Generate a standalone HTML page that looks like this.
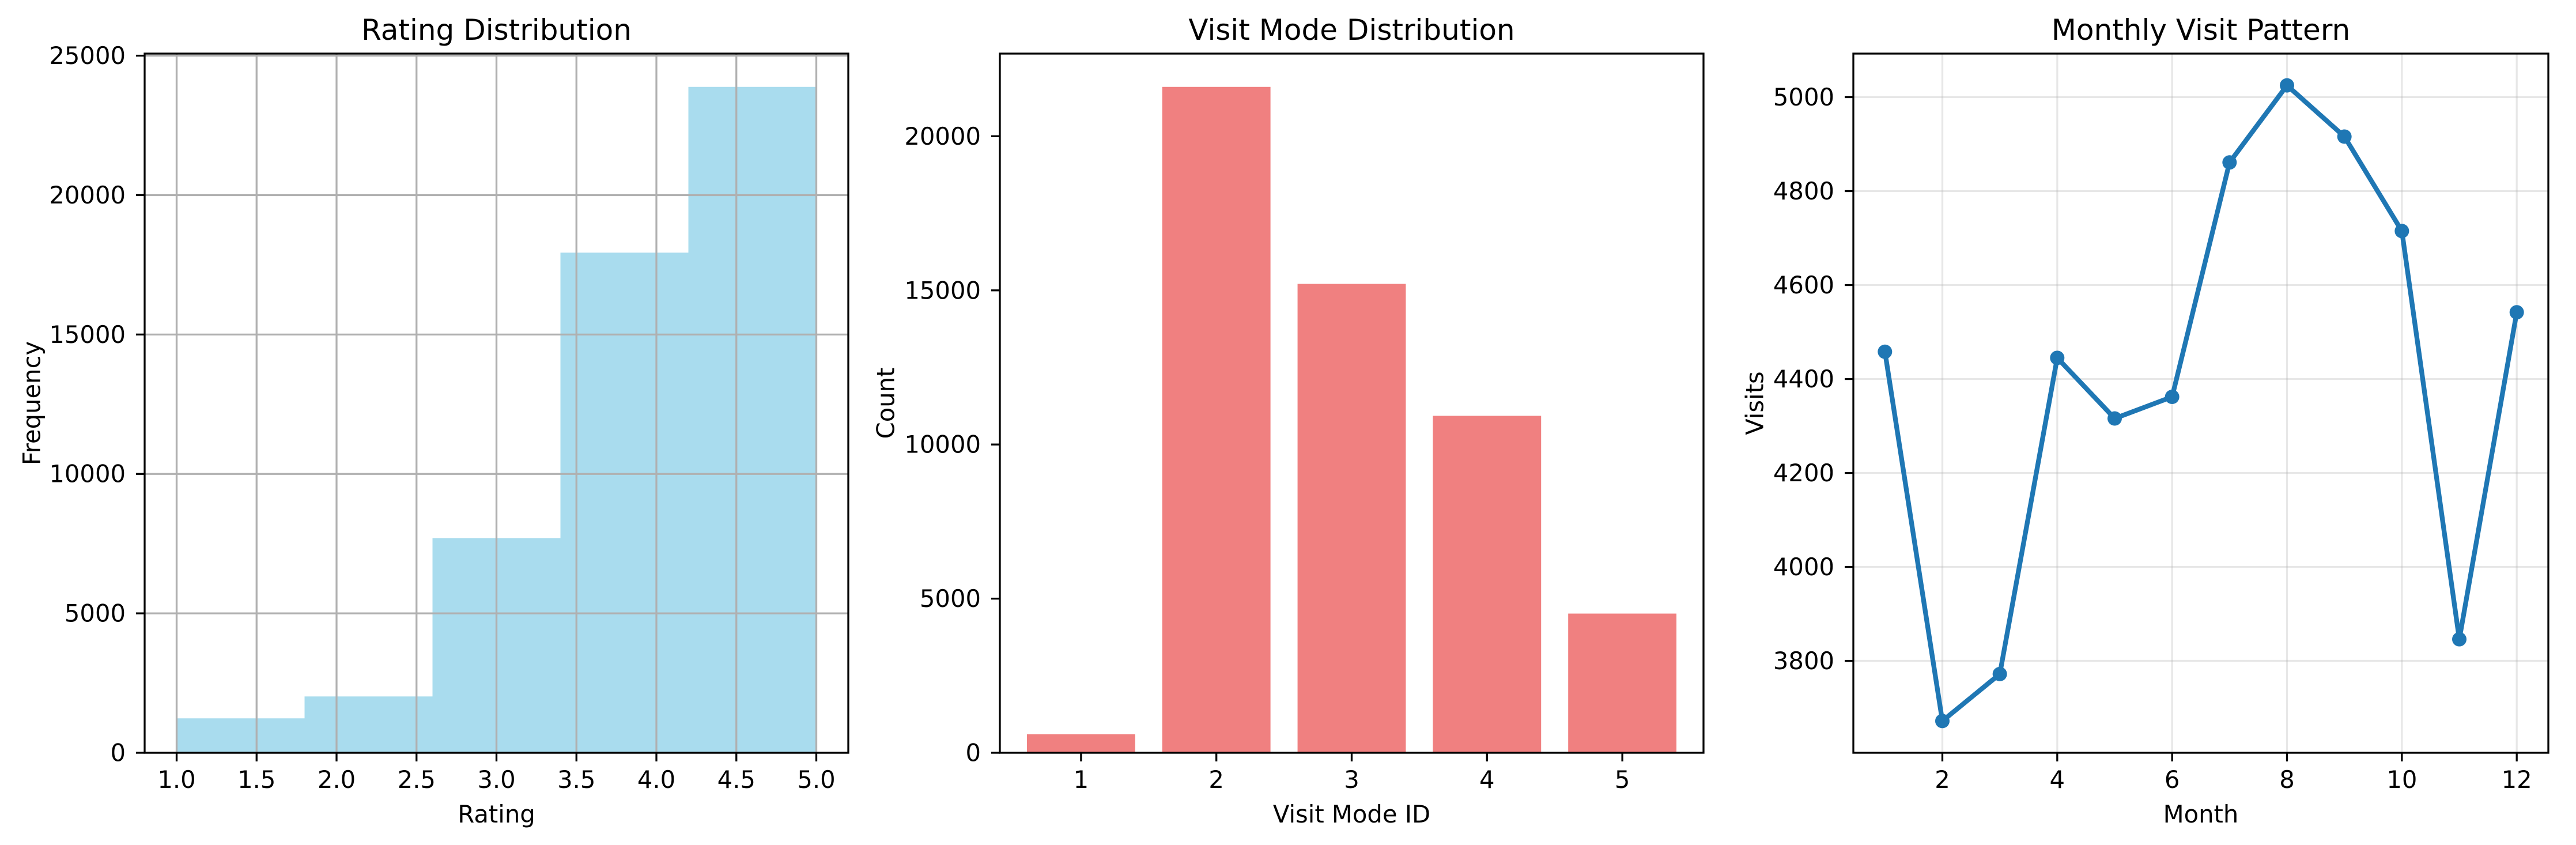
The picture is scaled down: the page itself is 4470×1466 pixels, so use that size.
<!DOCTYPE html>
<html><head><meta charset="utf-8"><style>html,body{margin:0;padding:0;background:#fff}svg{display:block}text{font-family:"DejaVu Sans","Liberation Sans",sans-serif;fill:#000}</style></head>
<body>
<svg id="fig" width="4470" height="1466" viewBox="0 0 4470 1466" xmlns="http://www.w3.org/2000/svg"></svg>
<script>
// Rating histogram
const histEdges = [1.0, 1.8, 2.6, 3.4, 4.2, 5.0];
const histCounts = [1235, 2020, 7700, 17935, 23880];
const histXTicks = [1.0, 1.5, 2.0, 2.5, 3.0, 3.5, 4.0, 4.5, 5.0];
const histYTicks = [0, 5000, 10000, 15000, 20000, 25000];
// Visit mode bars
const modeCats = [1, 2, 3, 4, 5];
const modeCounts = [600, 21600, 15210, 10930, 4515];
const modeYTicks = [0, 5000, 10000, 15000, 20000];
// Monthly
const months = [1,2,3,4,5,6,7,8,9,10,11,12];
const visits = [4458, 3672, 3772, 4445, 4316, 4362, 4861, 5025, 4916, 4715, 3846, 4542];
const monthXTicks = [2,4,6,8,10,12];
const monthYTicks = [3800,4000,4200,4400,4600,4800,5000];

const NS = "http://www.w3.org/2000/svg";
const svg = document.getElementById('fig');
function el(tag, attrs, parent, txt){
  const e = document.createElementNS(NS, tag);
  for (const k in attrs) e.setAttribute(k, attrs[k]);
  if (txt !== undefined) e.textContent = txt;
  (parent || svg).appendChild(e);
  return e;
}
const TOP = 93, BOT = 1306;
function scale(d0, d1, r0, r1){ return v => r0 + (v - d0) / (d1 - d0) * (r1 - r0); }

function axesFrame(g, L, R, title, xlabel, ylabel, ylabX){
  const t = el('text', {x:(L+R)/2, y:69, 'font-size':50, 'text-anchor':'middle'}, g, title);
  
  
  const xl = el('text', {x:(L+R)/2, y:1427, 'font-size':41.7, 'text-anchor':'middle'}, g, xlabel);
  
  
  const yl = el('text', {x:ylabX, y:(TOP+BOT)/2, 'font-size':41.7, 'text-anchor':'middle', 'dominant-baseline':'central', transform:`rotate(-90 ${ylabX} ${(TOP+BOT)/2})`}, g, ylabel);
  
  
}
function spines(g, L, R){
  const s = el('rect', {x:L, y:TOP, width:R-L, height:BOT-TOP, fill:'none', stroke:'#000', 'stroke-width':3.3}, g);
  
  
}
function xTicks(g, ticks, xs, fmt){
  ticks.forEach(v => {
    const x = xs(v);
    el('line', {x1:x, x2:x, y1:BOT, y2:BOT+15, stroke:'#000', 'stroke-width':3.3}, g);
    const t = el('text', {x:x, y:1367, 'font-size':41.7, 'text-anchor':'middle'}, g, fmt(v));
    
    
  });
}
function yTicks(g, ticks, ys, L){
  ticks.forEach(v => {
    const y = ys(v);
    el('line', {x1:L-15, x2:L, y1:y, y2:y, stroke:'#000', 'stroke-width':3.3}, g);
    const t = el('text', {x:L-33, y:y, 'font-size':41.7, 'text-anchor':'end', 'dominant-baseline':'central'}, g, String(v));
    
    
  });
}

// Panel 1
(function(){
  const L=251, R=1472;
  const g = el('g', {});
  
  
  const xs = scale(0.8, 5.2, L, R);
  const ymax = Math.max(...histCounts) * 1.05;
  const ys = scale(0, ymax, BOT, TOP);
  histCounts.forEach((c, i) => {
    const x0 = xs(histEdges[i]), x1 = xs(histEdges[i+1]);
    const r = el('rect', {x:x0, y:ys(c), width:x1-x0, height:BOT-ys(c), fill:'#a9dcee'}, g);
    
    
  });
  histXTicks.forEach(v => el('line', {x1:xs(v), x2:xs(v), y1:TOP, y2:BOT, stroke:'#b0b0b0', 'stroke-width':3.3}, g));
  histYTicks.forEach(v => el('line', {x1:L, x2:R, y1:ys(v), y2:ys(v), stroke:'#b0b0b0', 'stroke-width':3.3}, g));
  spines(g, L, R);
  xTicks(g, histXTicks, xs, v => v.toFixed(1));
  yTicks(g, histYTicks, ys, L);
  axesFrame(g, L, R, 'Rating Distribution', 'Rating', 'Frequency', 55);
})();

// Panel 2
(function(){
  const L=1735, R=2956;
  const g = el('g', {});
  
  
  const xs = scale(0.4, 5.6, L, R);
  const ymax = Math.max(...modeCounts) * 1.05;
  const ys = scale(0, ymax, BOT, TOP);
  modeCats.forEach((c, i) => {
    const x0 = xs(c - 0.4), x1 = xs(c + 0.4);
    const r = el('rect', {x:x0, y:ys(modeCounts[i]), width:x1-x0, height:BOT-ys(modeCounts[i]), fill:'#f08080'}, g);
    
    
  });
  spines(g, L, R);
  xTicks(g, modeCats, xs, v => String(v));
  yTicks(g, modeYTicks, ys, L);
  axesFrame(g, L, R, 'Visit Mode Distribution', 'Visit Mode ID', 'Count', 1537);
})();

// Panel 3
(function(){
  const L=3216, R=4422;
  const g = el('g', {});
  
  
  const xs = scale(0.45, 12.55, L, R);
  const mn = Math.min(...visits), mx = Math.max(...visits), pad = (mx-mn)*0.05;
  const ys = scale(mn - pad, mx + pad, BOT, TOP);
  monthXTicks.forEach(v => el('line', {x1:xs(v), x2:xs(v), y1:TOP, y2:BOT, stroke:'#b0b0b0', 'stroke-opacity':0.3, 'stroke-width':3.3}, g));
  monthYTicks.forEach(v => el('line', {x1:L, x2:R, y1:ys(v), y2:ys(v), stroke:'#b0b0b0', 'stroke-opacity':0.3, 'stroke-width':3.3}, g));
  const pts = months.map((m, i) => xs(m) + ',' + ys(visits[i])).join(' ');
  const pl = el('polyline', {points:pts, fill:'none', stroke:'#1f77b4', 'stroke-width':8.3, 'stroke-linejoin':'round'}, g);
  
  
  months.forEach((m, i) => {
    const c = el('circle', {cx:xs(m), cy:ys(visits[i]), r:12.5, fill:'#1f77b4'}, g);
    
    
  });
  spines(g, L, R);
  xTicks(g, monthXTicks, xs, v => String(v));
  yTicks(g, monthYTicks, ys, L);
  axesFrame(g, L, R, 'Monthly Visit Pattern', 'Month', 'Visits', 3045);
})();
</script>
</body></html>
